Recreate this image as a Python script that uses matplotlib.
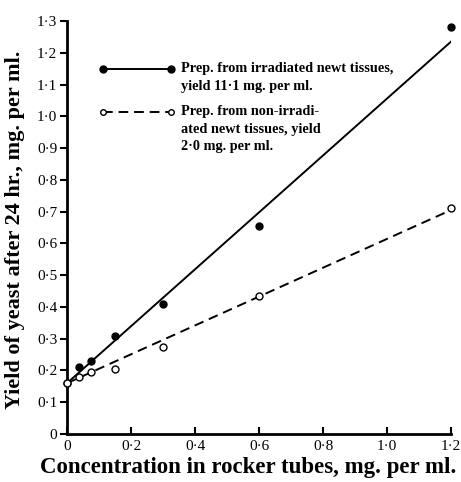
import matplotlib
matplotlib.use("Agg")
import matplotlib.pyplot as plt

# concentration (mg/ml) and yeast yield after 24 hr (mg/ml)
conc_irr = [0.0, 0.038, 0.075, 0.15, 0.30, 0.60, 1.20]
yield_irr = [0.16, 0.21, 0.23, 0.31, 0.41, 0.655, 1.28]
conc_non = [0.0, 0.038, 0.075, 0.15, 0.30, 0.60, 1.20]
yield_non = [0.16, 0.18, 0.195, 0.205, 0.275, 0.435, 0.71]

# fitted lines (start, end)
fit_x = [0.0, 1.2]
fit_irr = [0.16, 1.235]
fit_non = [0.16, 0.705]

xticks = [0, 0.2, 0.4, 0.6, 0.8, 1.0, 1.2]
xticklabels = ["0", "0·2", "0·4", "0·6", "0·8", "1·0", "1·2"]
yticks = [0, 0.1, 0.2, 0.3, 0.4, 0.5, 0.6, 0.7, 0.8, 0.9, 1.0, 1.1, 1.2, 1.3]
yticklabels = ["0", "0·1", "0·2", "0·3", "0·4", "0·5", "0·6", "0·7", "0·8",
               "0·9", "1·0", "1·1", "1·2", "1·3"]

label_irr = "Prep. from irradiated newt tissues,\nyield 11·1 mg. per ml."
label_non = "Prep. from non-irradi-\nated newt tissues, yield\n2·0 mg. per ml."

plt.rcParams['font.family'] = ['Liberation Serif', 'DejaVu Serif']

fig = plt.figure(figsize=(4.61, 4.82), dpi=100)
ax = fig.add_axes([67 / 461, 1 - 434 / 482, 384 / 461, 413 / 482])

ax.plot(fit_x, fit_irr, color="black", lw=1.4)
ax.plot(fit_x, fit_non, color="black", lw=1.4, ls=(0, (5, 3)))
ax.plot(conc_irr, yield_irr, "o", color="black", ms=5, clip_on=False)
ax.plot(conc_non, yield_non, "o", mfc="white", mec="black", mew=1.0, ms=5,
        clip_on=False, zorder=5)

ax.set_xlim(0, 1.2)
ax.set_ylim(0, 1.3)
ax.set_xticks(xticks)
ax.set_xticklabels(xticklabels)
ax.set_yticks(yticks)
ax.set_yticklabels(yticklabels)
ax.tick_params(axis="x", direction="in", length=5, width=1.5, labelsize=11, pad=4)
ax.tick_params(axis="y", direction="out", length=5, width=1.5, labelsize=11, pad=2)

for s in ["top", "right"]:
    ax.spines[s].set_visible(False)
for s in ["left", "bottom"]:
    ax.spines[s].set_linewidth(2)

# legend drawn by hand
y1 = 1 - 69 / 482
y2 = 1 - 112 / 482
x0, x1 = 103 / 461, 171 / 461
fig.add_artist(plt.Line2D([x0, x1], [y1, y1], color="black", lw=1.4,
                          marker="o", ms=5, transform=fig.transFigure))
fig.add_artist(plt.Line2D([x0, x1], [y2, y2], color="black", lw=1.4,
                          ls=(0, (5, 3)), marker="o", ms=4, mfc="white",
                          transform=fig.transFigure))
fig.text(181 / 461, y1 + 0.014, label_irr, fontsize=10.3, fontweight="bold",
         va="top", ha="left", linespacing=1.45)
fig.text(181 / 461, y2 + 0.014, label_non, fontsize=10.3, fontweight="bold",
         va="top", ha="left", linespacing=1.45)

fig.text(15 / 461, 1 - 230 / 482, "Yield of yeast after 24 hr., mg. per ml.",
         rotation=90, fontsize=16, fontweight="bold", ha="center", va="center")
fig.text(248 / 461, 1 - 468 / 482, "Concentration in rocker tubes, mg. per ml.",
         fontsize=16.5, fontweight="bold", ha="center", va="center")

fig.savefig("out.png", dpi=100)
